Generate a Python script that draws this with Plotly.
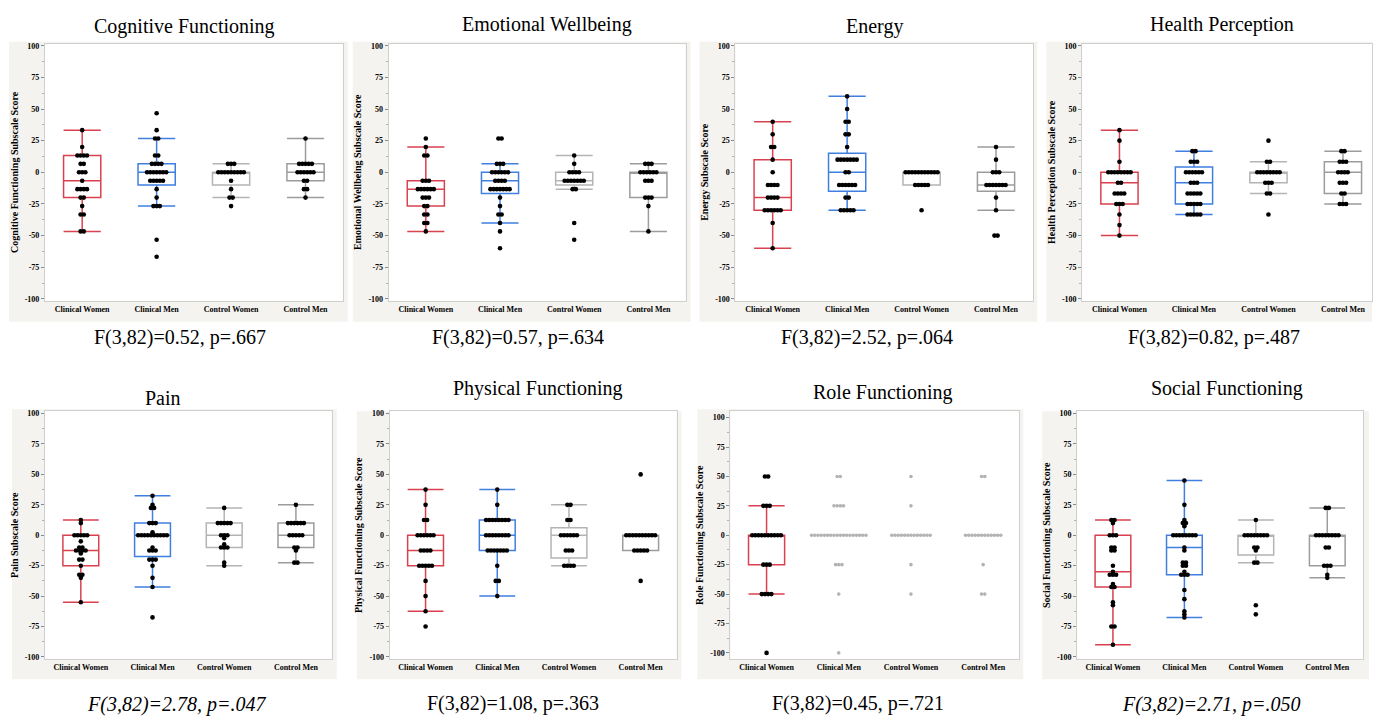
import plotly.graph_objects as go

W, H = 1373, 718
FONT = "Liberation Serif, Times New Roman, serif"
groups = ["Clinical Women", "Clinical Men", "Control Women", "Control Men"]

# ---- data: (value, count) pairs per group ----
cog_cw = [(33.3, 1), (20, 1), (13.3, 4), (6.7, 2), (0, 3), (-6.7, 1), (-13.3, 4), (-20, 2), (-26.7, 1), (-33.3, 2), (-46.7, 2)]
cog_cm = [(46.7, 1), (33.3, 1), (26.7, 2), (13.3, 2), (6.7, 4), (0, 7), (-6.7, 5), (-13.3, 1), (-20, 1), (-26.7, 3), (-53.3, 1), (-66.7, 1)]
cog_cow = [(6.7, 3), (0, 9), (-6.7, 1), (-13.3, 1), (-20, 2), (-26.7, 1)]
cog_com = [(26.7, 1), (6.7, 5), (0, 6), (-6.7, 2), (-13.3, 2), (-20, 1)]
# box stats: (q1, median, q3, lower whisker, upper whisker)
cog_box = [(-20, -6.7, 13.3, -46.7, 33.3), (-10, 0, 6.7, -26.7, 26.7), (-10, 0, 0, -20, 6.7), (-6.7, 0, 6.7, -20, 26.7)]

emo_cw = [(26.7, 1), (20, 1), (13.3, 2), (-6.7, 3), (-13.3, 6), (-20, 3), (-26.7, 2), (-33.3, 2), (-40, 2), (-46.7, 1)]
emo_cm = [(26.7, 2), (6.7, 3), (0, 6), (-6.7, 4), (-13.3, 7), (-20, 1), (-26.7, 1), (-33.3, 2), (-40, 1), (-46.7, 1), (-60, 1)]
emo_cow = [(13.3, 1), (6.7, 1), (0, 4), (-6.7, 7), (-13.3, 2), (-40, 1), (-53.3, 1)]
emo_com = [(6.7, 3), (0, 6), (-6.7, 3), (-20, 3), (-26.7, 1), (-46.7, 1)]
emo_box = [(-26.7, -13.3, -6.7, -46.7, 20), (-16.7, -6.7, 0, -40, 6.7), (-10, -6.7, 0, -13.3, 13.3), (-20, 0, 0, -46.7, 6.7)]

ene_cw = [(40, 1), (30, 1), (20, 2), (10, 1), (0, 1), (-10, 4), (-20, 4), (-30, 6), (-40, 1), (-60, 1)]
ene_cm = [(60, 1), (50, 1), (40, 2), (30, 2), (20, 1), (10, 7), (0, 2), (-10, 6), (-20, 2), (-30, 5)]
ene_cow = [(0, 11), (-10, 5), (-30, 1)]
ene_com = [(20, 1), (10, 1), (0, 3), (-10, 7), (-20, 1), (-30, 1), (-50, 2)]
ene_box = [(-30, -20, 10, -60, 40), (-15, 0, 15, -30, 60), (-10, 0, 0, -10, 0), (-15, -10, 0, -30, 20)]

hp_cw = [(33.3, 1), (25, 1), (8.3, 1), (0, 8), (-8.3, 2), (-16.7, 4), (-25, 3), (-33.3, 1), (-41.7, 1), (-50, 1)]
hp_cm = [(16.7, 2), (8.3, 3), (0, 6), (-8.3, 3), (-16.7, 5), (-25, 5), (-33.3, 5)]
hp_cow = [(25, 1), (8.3, 2), (0, 8), (-8.3, 3), (-16.7, 2), (-33.3, 1)]
hp_com = [(16.7, 2), (8.3, 3), (0, 4), (-8.3, 3), (-16.7, 2), (-25, 3)]
hp_box = [(-25, -8.3, 0, -50, 33.3), (-25, -8.3, 4.2, -33.3, 16.7), (-8.3, 0, 0, -16.7, 8.3), (-16.7, 0, 8.3, -25, 16.7)]

pain_cw = [(12.5, 1), (10, 1), (0, 5), (-5, 1), (-10, 2), (-12.5, 4), (-15, 1), (-20, 2), (-25, 1), (-32.5, 2), (-35, 1), (-55, 1)]
pain_cm = [(32.5, 1), (25, 1), (22.5, 2), (10, 3), (2.5, 1), (0, 10), (-10, 1), (-12.5, 3), (-20, 3), (-25, 1), (-35, 1), (-42.5, 1), (-67.5, 1)]
pain_cow = [(22.5, 1), (10, 5), (0, 3), (-2.5, 1), (-7.5, 1), (-10, 3), (-22.5, 1), (-25, 1)]
pain_com = [(25, 1), (10, 6), (0, 5), (-10, 2), (-12.5, 1), (-22.5, 2)]
pain_box = [(-25, -12.5, 0, -55, 12.5), (-17.5, 0, 10, -42.5, 32.5), (-10, 0, 10, -25, 22.5), (-10, 0, 10, -22.5, 25)]

phys_cw = [(37.5, 1), (25, 1), (12.5, 2), (0, 6), (-12.5, 4), (-25, 5), (-37.5, 1), (-50, 1), (-62.5, 1), (-75, 1)]
phys_cm = [(37.5, 1), (25, 1), (12.5, 8), (0, 8), (-12.5, 7), (-25, 1), (-37.5, 2), (-50, 1)]
phys_cow = [(25, 2), (12.5, 2), (0, 6), (-12.5, 3), (-25, 4)]
phys_com = [(50, 1), (0, 10), (-12.5, 5), (-37.5, 1)]
phys_box = [(-25, -12.5, 0, -62.5, 37.5), (-12.5, 0, 12.5, -50, 37.5), (-18.75, 0, 6.25, -25, 25), (-12.5, 0, 0, -12.5, 0)]

role_cw = [(50, 2), (25, 3), (0, 10), (-25, 3), (-50, 4), (-100, 1)]
role_cm = [(50, 2), (25, 4), (0, 18), (-25, 3), (-50, 1), (-100, 1)]
role_cow = [(50, 1), (25, 1), (0, 13), (-25, 1), (-50, 1)]
role_com = [(50, 2), (0, 12), (-25, 1), (-50, 2)]
role_box = [(-25, 0, 0, -50, 25), None, None, None]

soc_cw = [(12.5, 2), (10, 1), (0, 3), (-10, 2), (-12.5, 2), (-25, 1), (-30, 1), (-32.5, 3), (-40, 1), (-42.5, 2), (-55, 1), (-57.5, 1), (-75, 2), (-90, 1)]
soc_cm = [(45, 1), (25, 1), (12.5, 1), (10, 2), (7.5, 1), (0, 8), (-10, 1), (-12.5, 1), (-22.5, 2), (-25, 2), (-30, 1), (-32.5, 3), (-45, 1), (-52.5, 1), (-62.5, 1), (-65, 1), (-67.5, 1)]
soc_cow = [(12.5, 1), (0, 8), (-10, 2), (-12.5, 1), (-22.5, 2), (-57.5, 1), (-65, 1)]
soc_com = [(22.5, 2), (0, 8), (-10, 2), (-25, 3), (-32.5, 1), (-35, 1)]
soc_box = [(-42.5, -30, 0, -90, 12.5), (-32.5, -10, 0, -67.5, 45), (-16.25, 0, 0, -22.5, 12.5), (-25, 0, 0, -35, 22.5)]

titles = ["Cognitive Functioning", "Emotional Wellbeing", "Energy", "Health Perception",
          "Pain", "Physical Functioning", "Role Functioning", "Social Functioning"]
ytitles = ["Cognitive Functioning Subscale Score", "Emotional Wellbeing Subscale Score",
           "Energy Subscale Score", "Health Perception Subscale Score", "Pain Subscale Score",
           "Physical Functioning Subscale Score", "Role Functioning Subscale Score",
           "Social Functioning Subscale Score"]
stats = ["F(3,82)=0.52, p=.667", "F(3,82)=0.57, p=.634", "F(3,82)=2.52, p=.064", "F(3,82)=0.82, p=.487",
         "F(3,82)=2.78, p=.047", "F(3,82)=1.08, p=.363", "F(3,82)=0.45, p=.721", "F(3,82)=2.71, p=.050"]
stat_italic = [False, False, False, False, True, False, False, True]
yticks = [100, 75, 50, 25, 0, -25, -50, -75, -100]

panels = [
    ([cog_cw, cog_cm, cog_cow, cog_com], cog_box),
    ([emo_cw, emo_cm, emo_cow, emo_com], emo_box),
    ([ene_cw, ene_cm, ene_cow, ene_com], ene_box),
    ([hp_cw, hp_cm, hp_cow, hp_com], hp_box),
    ([pain_cw, pain_cm, pain_cow, pain_com], pain_box),
    ([phys_cw, phys_cm, phys_cow, phys_com], phys_box),
    ([role_cw, role_cm, role_cow, role_com], role_box),
    ([soc_cw, soc_cm, soc_cow, soc_com], soc_box),
]

# ---- layout geometry (pixels) ----
plot_x = [(45, 343), (389, 686), (736, 1034), (1083, 1373),
          (45, 332), (390, 677), (731, 1020), (1078, 1364)]
plot_y = [(42, 301)] * 4 + [(412, 662)] * 4
xr = [(-0.5, 3.5)] * 3 + [(-0.5, 3.39)] + [(-0.5, 3.5)] * 4
yr = [(-101.6, 101.6)] * 4 + [(-102, 102)] * 2 + [(-105.5, 105.5)] + [(-102, 102)]
bg = [(9, 348, 40, 322), (353, 691, 40, 322), (700, 1038, 40, 322), (1047, 1373, 40, 322),
      (12, 337, 410, 682), (357, 682, 412, 682), (698, 1024, 410, 682), (1043, 1370, 412, 682)]
title_pos = [(185, 25), (547, 23), (875, 25), (1223, 23), (163, 399), (538, 389), (883, 393), (1228, 389)]
stat_pos = [(180, 338), (518, 338), (868, 338), (1215, 338), (177, 707), (513, 706), (859, 706), (1212, 707)]

box_colors = ["#d9414f", "#3f7fe0", "#b4b4b4", "#9c9c9c"]

fig = go.Figure()
layout = dict(width=W, height=H, margin=dict(l=0, r=0, t=0, b=0),
              paper_bgcolor="white", plot_bgcolor="white", showlegend=False,
              font=dict(family=FONT, color="black"), shapes=[], annotations=[])

for p, (grp_data, boxes) in enumerate(panels):
    n = p + 1
    xa = "x" if n == 1 else f"x{n}"
    ya = "y" if n == 1 else f"y{n}"
    x0, x1 = plot_x[p]
    y0, y1 = plot_y[p]
    pxu = (x1 - x0) / (xr[p][1] - xr[p][0])
    step = 3.2 / pxu

    # boxes
    for g, b in enumerate(boxes):
        if b is None:
            continue
        q1, med, q3, lo, hi = b
        fig.add_trace(go.Box(x=[g], q1=[q1], median=[med], q3=[q3], lowerfence=[lo], upperfence=[hi],
                             width=0.5, whiskerwidth=1, boxpoints=False,
                             line=dict(color=box_colors[g], width=1.5), fillcolor="rgba(0,0,0,0)",
                             xaxis=xa, yaxis=ya, hoverinfo="skip"))
    # points
    for g, pairs in enumerate(grp_data):
        xs, ys = [], []
        for v, k in pairs:
            for i in range(k):
                xs.append(g + (i - (k - 1) / 2) * step)
                ys.append(v)
        gray = (p == 6 and g > 0)
        fig.add_trace(go.Scatter(x=xs, y=ys, mode="markers", xaxis=xa, yaxis=ya,
                                 marker=dict(color="#b3b3b3" if gray else "black",
                                             size=3.6 if gray else 4.6, line=dict(width=0)),
                                 hoverinfo="skip"))

    key_x = "xaxis" if n == 1 else f"xaxis{n}"
    key_y = "yaxis" if n == 1 else f"yaxis{n}"
    layout[key_x] = dict(domain=[x0 / W, x1 / W], anchor=ya, range=list(xr[p]),
                         tickvals=[0, 1, 2, 3], ticktext=groups, ticks="",
                         showgrid=False, zeroline=False, showline=True, mirror=True,
                         linecolor="#cfcfcf", linewidth=1,
                         tickfont=dict(family=FONT, size=8, color="black", weight="bold"))
    layout[key_y] = dict(domain=[1 - y1 / H, 1 - y0 / H], anchor=xa, range=list(yr[p]),
                         tickvals=yticks, ticktext=[str(t) for t in yticks],
                         ticks="outside", ticklen=3, tickcolor="#8a8a8a", tickwidth=1,
                         minor=dict(dtick=12.5, tick0=0, ticks="outside", ticklen=2, tickcolor="#b0b0b0"),
                         showgrid=False, zeroline=False, showline=True, mirror=True,
                         linecolor="#cfcfcf", linewidth=1,
                         tickfont=dict(family=FONT, size=8, color="black", weight="bold"),
                         title=dict(text=ytitles[p], standoff=4,
                                    font=dict(family=FONT, size=10, color="black", weight="bold")))

    bx0, bx1, by0, by1 = bg[p]
    layout["shapes"].append(dict(type="rect", xref="paper", yref="paper", layer="below",
                                 x0=bx0 / W, x1=bx1 / W, y0=1 - by1 / H, y1=1 - by0 / H,
                                 fillcolor="#f5f3ef", line=dict(width=0)))
    layout["shapes"].append(dict(type="rect", xref="paper", yref="paper", layer="below",
                                 x0=x0 / W, x1=x1 / W, y0=1 - y1 / H, y1=1 - y0 / H,
                                 fillcolor="white", line=dict(width=0)))
    tx, ty = title_pos[p]
    layout["annotations"].append(dict(text=titles[p], x=tx / W, y=1 - ty / H, xref="paper", yref="paper",
                                      xanchor="center", yanchor="middle", showarrow=False,
                                      font=dict(family=FONT, size=20, color="black")))
    sx, sy = stat_pos[p]
    layout["annotations"].append(dict(text=stats[p], x=sx / W, y=1 - sy / H, xref="paper", yref="paper",
                                      xanchor="center", yanchor="middle", showarrow=False,
                                      font=dict(family=FONT, size=20, color="black",
                                                style="italic" if stat_italic[p] else "normal")))

layout["boxmode"] = "overlay"
fig.update_layout(**layout)
fig.write_html("out.html", config={"displayModeBar": False},
               post_script="document.body.style.margin='0px';document.body.style.overflow='hidden';")
